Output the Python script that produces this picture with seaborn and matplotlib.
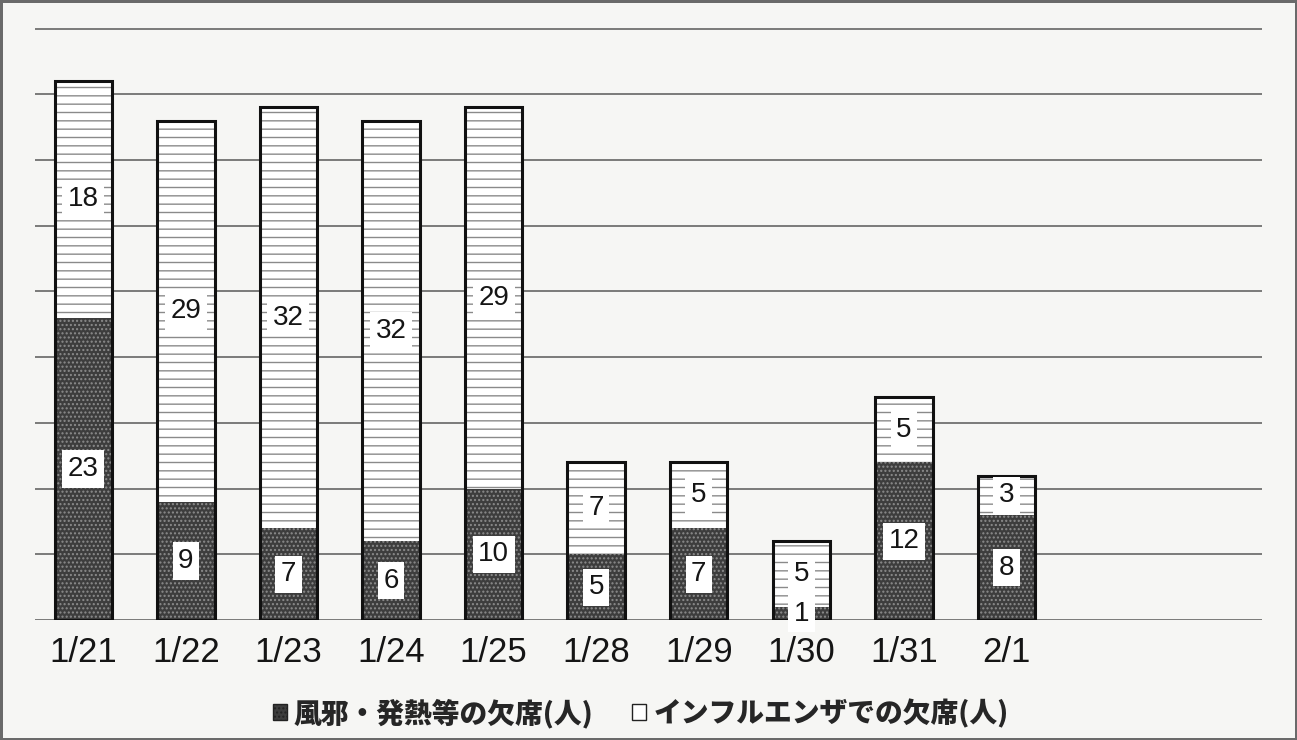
import numpy as np
import pandas as pd
import matplotlib
matplotlib.use("Agg")
import matplotlib.pyplot as plt
import seaborn as sns
from matplotlib.patches import Patch

# ===== data =====
dates = ["1/21", "1/22", "1/23", "1/24", "1/25", "1/28", "1/29", "1/30", "1/31", "2/1"]
cold = [23, 9, 7, 6, 10, 5, 7, 1, 12, 8]        # 風邪・発熱等の欠席
flu = [18, 29, 32, 32, 29, 7, 5, 5, 5, 3]       # インフルエンザでの欠席
legend_labels = ["風邪・発熱等の欠席(人)", "インフルエンザでの欠席(人)"]

df = pd.DataFrame({"date": dates, "cold": cold, "flu": flu})
df["total"] = df["cold"] + df["flu"]

sns.set_style("white")
plt.rcParams["font.family"] = ["Liberation Sans", "DejaVu Sans"]
plt.rcParams["hatch.linewidth"] = 1.0

BG = "#f6f6f4"
fig = plt.figure(figsize=(12.97, 7.40), dpi=100, facecolor=BG,
                 linewidth=2.5, edgecolor="#6a6a6a")
ax = fig.add_axes([0.027, 0.162, 0.946, 0.826])
ax.set_facecolor(BG)

W = 0.56
# upper (influenza) segment drawn as the full stack, hatched with horizontal lines
sns.barplot(data=df, x="date", y="total", ax=ax, width=W, color="white",
            edgecolor="#8a8a8a", hatch="--", linewidth=0, saturation=1)
# lower (cold) segment: dark stipple
sns.barplot(data=df, x="date", y="cold", ax=ax, width=W, color="#3d3d3d",
            edgecolor="#8c8c8c", hatch="....", linewidth=0, saturation=1)
# outlines
sns.barplot(data=df, x="date", y="total", ax=ax, width=W, fill=False,
            edgecolor="#111111", linewidth=2.2)

ax.set_ylim(0, 46.5)
ax.set_xlim(-0.47, 11.49)
ax.set_yticks(np.arange(0, 50, 5))
ax.yaxis.grid(True, color="#707070", linewidth=1.3)
ax.set_axisbelow(True)
ax.tick_params(axis="y", left=False, labelleft=False)
ax.tick_params(axis="x", bottom=False, labelsize=25, pad=8, colors="#151515")
ax.set_xlabel("")
ax.set_ylabel("")
for s in ax.spines.values():
    s.set_visible(False)

box = dict(facecolor="white", edgecolor="none", pad=4)
for i, (c, f) in enumerate(zip(cold, flu)):
    ax.text(i, c / 2, str(c), ha="center", va="center", fontsize=20,
            color="#151515", bbox=box)
    ax.text(i, c + f / 2, str(f), ha="center", va="center", fontsize=20,
            color="#151515", bbox=box)

handles = [Patch(facecolor="#3d3d3d", edgecolor="#222222", hatch="...."),
           Patch(facecolor="white", edgecolor="#222222")]
fig.legend(handles, legend_labels, loc="center", bbox_to_anchor=(0.494, 0.036),
           ncol=2, frameon=False, handlelength=0.5, handleheight=0.5,
           handletextpad=0.25, columnspacing=1.4,
           prop={"family": ["Noto Sans CJK JP", "DejaVu Sans"],
                 "weight": "heavy", "size": 20})

fig.savefig("out.png", dpi=100, facecolor=fig.get_facecolor(),
            edgecolor=fig.get_edgecolor())
